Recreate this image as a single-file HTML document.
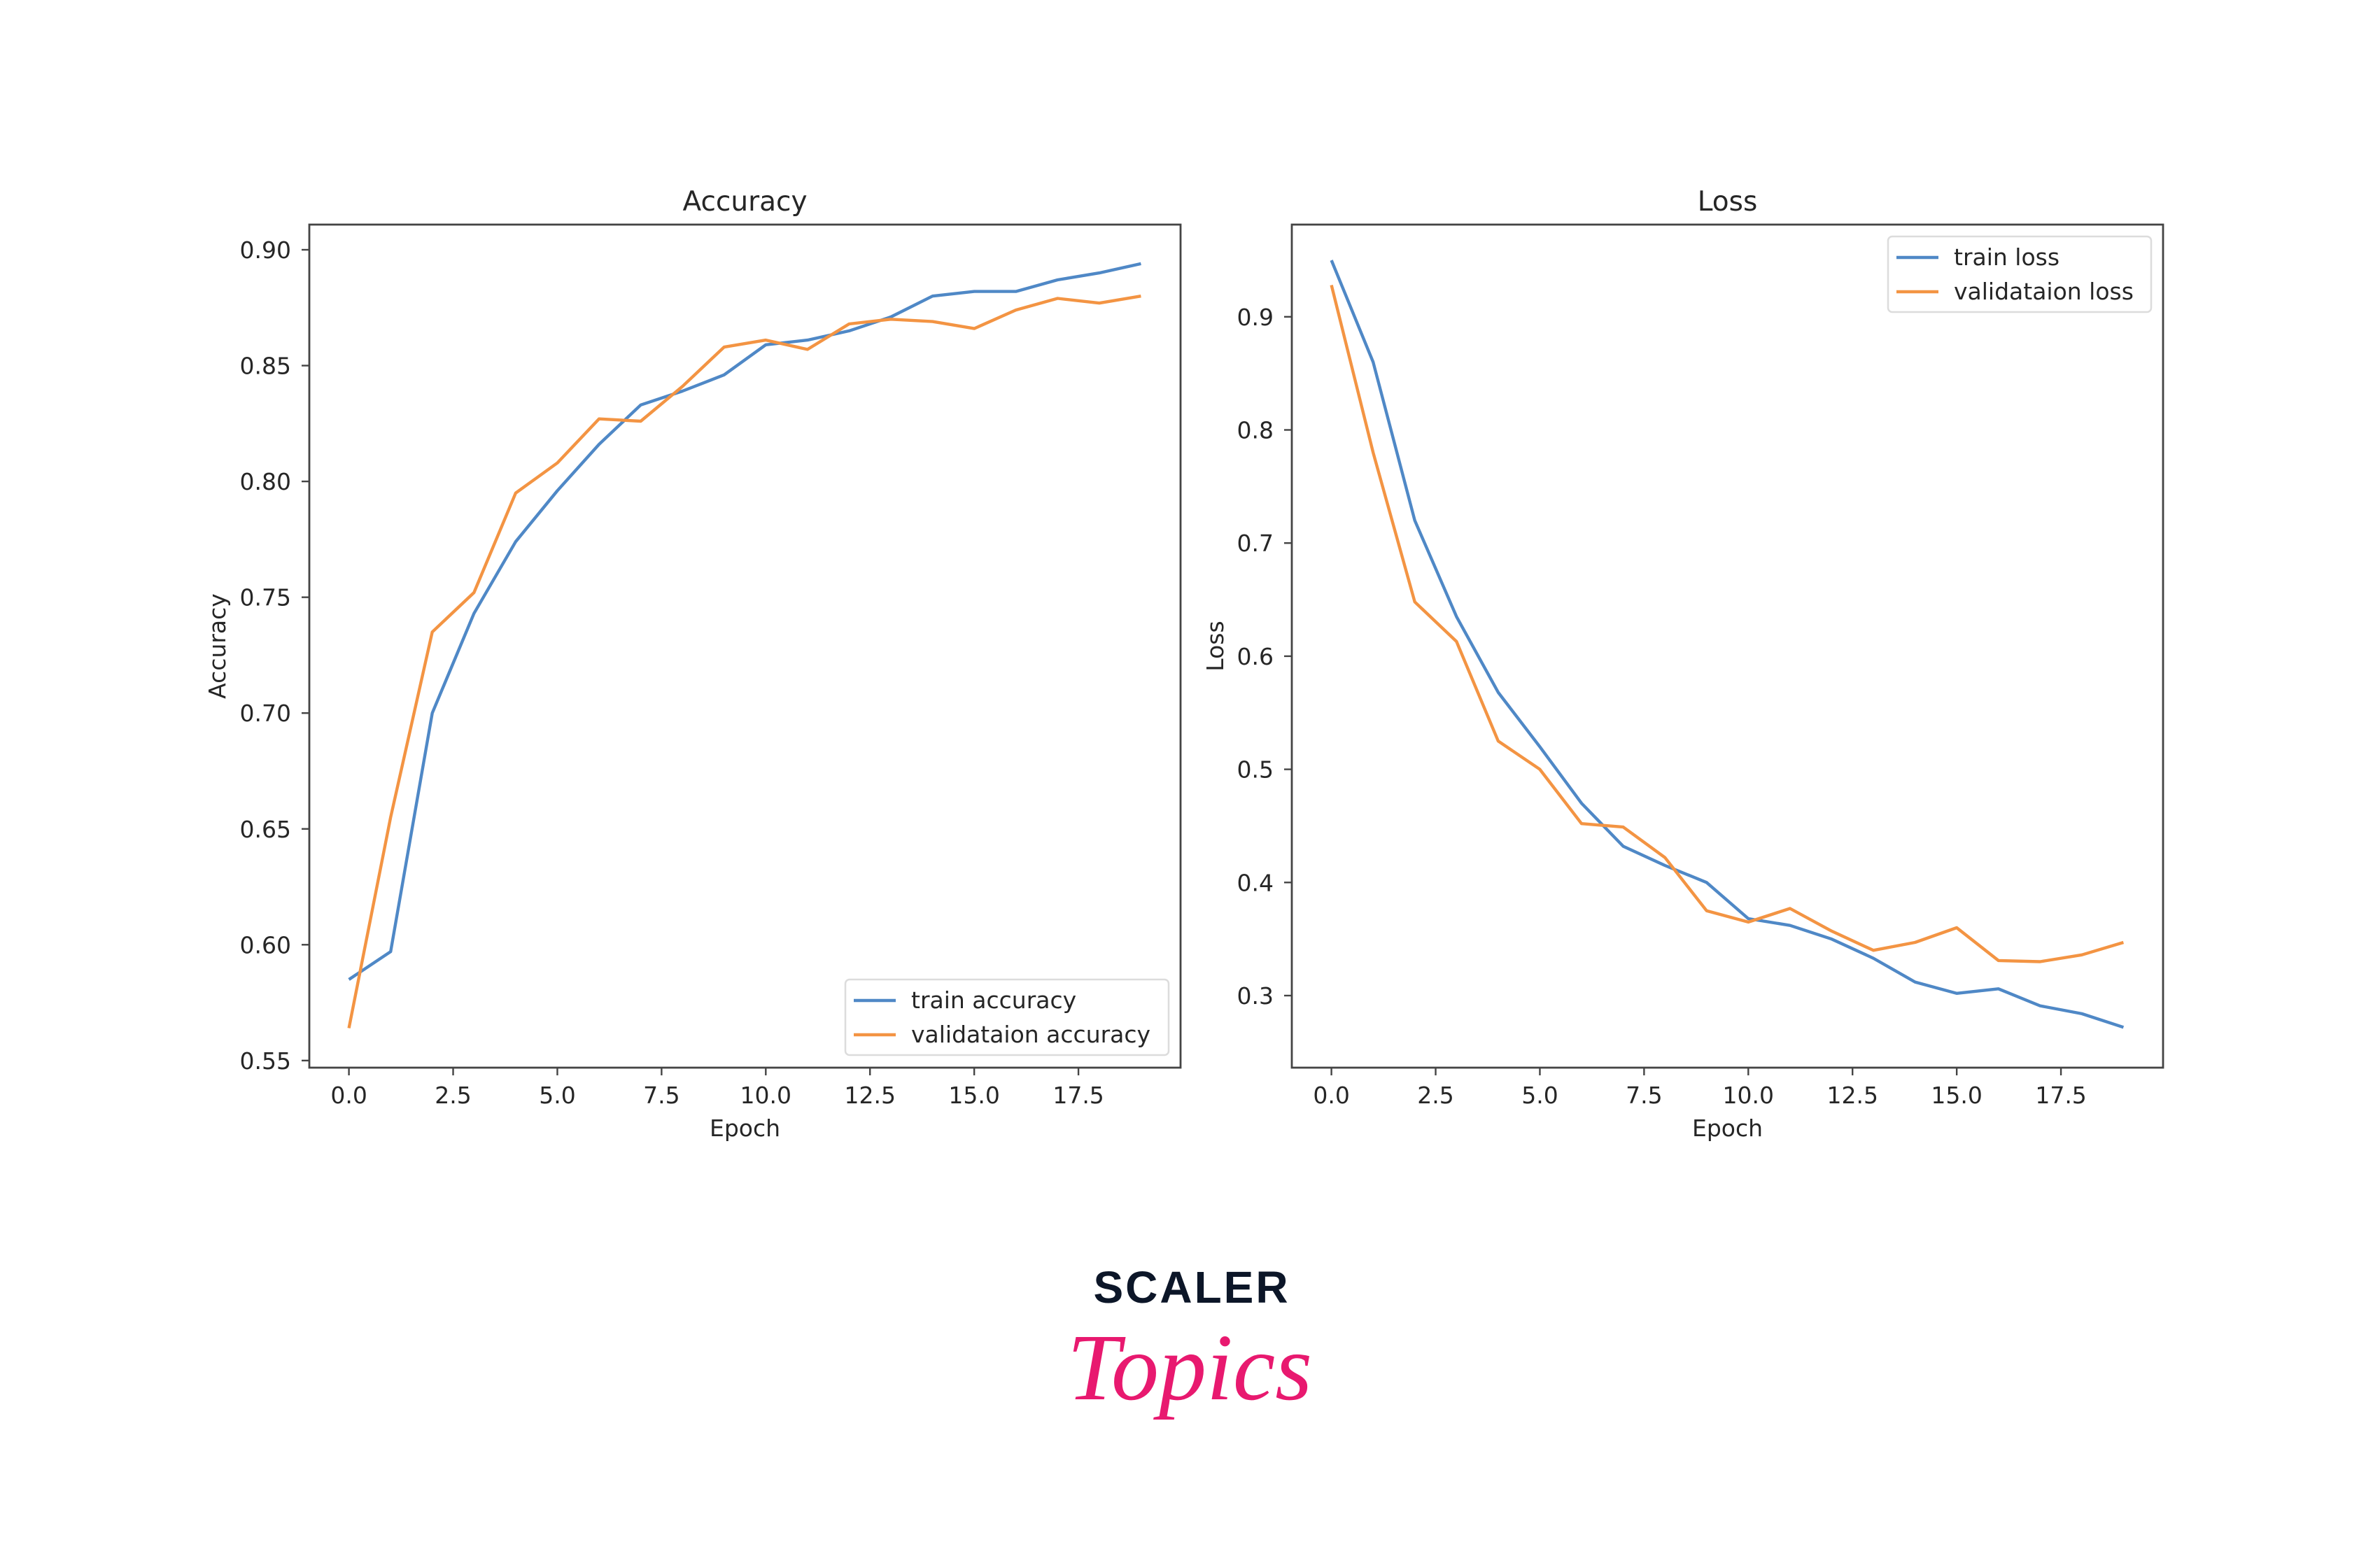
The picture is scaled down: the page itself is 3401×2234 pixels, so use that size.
<!DOCTYPE html>
<html><head><meta charset="utf-8"><style>
html,body{margin:0;padding:0;background:#fff;}
svg{display:block;}
text{font-family:"DejaVu Sans","Liberation Sans",sans-serif;fill:#262626;}
</style></head><body>
<svg id="s" width="3401" height="2234" xmlns="http://www.w3.org/2000/svg">
<rect width="3401" height="2234" fill="#fff"/>
<g id="g"></g>
<text x="1703" y="1862" text-anchor="middle" style="font-family:'Liberation Sans',sans-serif;font-weight:bold;font-size:64px;letter-spacing:3px;fill:#0c1628">SCALER</text>
<text x="1700" y="2000" text-anchor="middle" style="font-family:'Liberation Serif',serif;font-style:italic;font-size:136px;fill:#e8196f">Topics</text>
</svg>
<script>
var g=document.getElementById('g'),h='';
var BL='#4f88c6',OR='#f39443';
function ax(L,R,T,B,x0,ppu,yf,yt,ylab,title,tr,vl,leg){
  function pl(d,c){var p=d.map(function(v,i){return (x0+i*ppu).toFixed(1)+','+yf(v).toFixed(1)}).join(' ');
    h+='<polyline points="'+p+'" fill="none" stroke="'+c+'" stroke-width="4.4" stroke-linejoin="round"/>';}
  pl(tr,BL);pl(vl,OR);
  h+='<rect x="'+L+'" y="'+T+'" width="'+(R-L)+'" height="'+(B-T)+'" fill="none" stroke="#444" stroke-width="2.8"/>';
  for(var k=0;k<=7;k++){var x=x0+k*2.5*ppu;
    h+='<line x1="'+x+'" y1="'+B+'" x2="'+x+'" y2="'+(B+11)+'" stroke="#444" stroke-width="2.4"/>';
    h+='<text x="'+x+'" y="'+(B+51)+'" text-anchor="middle" font-size="33">'+(k*2.5).toFixed(1)+'</text>';}
  yt.forEach(function(t){var y=yf(t.v);
    h+='<line x1="'+(L-11)+'" y1="'+y+'" x2="'+L+'" y2="'+y+'" stroke="#444" stroke-width="2.4"/>';
    h+='<text x="'+(L-26)+'" y="'+(y+12)+'" text-anchor="end" font-size="33">'+t.s+'</text>';});
  h+='<text x="'+((L+R)/2)+'" y="'+(B+98)+'" text-anchor="middle" font-size="33">Epoch</text>';
  h+='<text x="'+((L+R)/2)+'" y="'+(T-20)+'" text-anchor="middle" font-size="39">'+title+'</text>';
  var yc=(T+B)/2;
  h+='<text transform="translate('+ylab.x+','+yc+') rotate(-90)" text-anchor="middle" font-size="33">'+ylab.s+'</text>';
  h+='<rect x="'+leg.x+'" y="'+leg.y+'" width="'+leg.w+'" height="108" rx="6" fill="#fff" fill-opacity="0.85" stroke="#dcdcdc" stroke-width="2.5"/>';
  [[BL,leg.a],[OR,leg.b]].forEach(function(e,i){var yy=leg.y+30+i*49;
    h+='<line x1="'+(leg.x+12)+'" y1="'+yy+'" x2="'+(leg.x+72)+'" y2="'+yy+'" stroke="'+e[0]+'" stroke-width="4.4"/>';
    h+='<text x="'+(leg.x+94)+'" y="'+(yy+11)+'" font-size="33">'+e[1]+'</text>';});
}
var accT=[0.585,0.597,0.70,0.743,0.774,0.796,0.816,0.833,0.839,0.846,0.859,0.861,0.865,0.871,0.880,0.882,0.882,0.887,0.890,0.894];
var accV=[0.564,0.655,0.735,0.752,0.795,0.808,0.827,0.826,0.841,0.858,0.861,0.857,0.868,0.870,0.869,0.866,0.874,0.879,0.877,0.880];
var lT=[0.95,0.86,0.72,0.635,0.568,0.52,0.47,0.432,0.415,0.40,0.368,0.362,0.35,0.333,0.312,0.302,0.306,0.291,0.284,0.272];
var lV=[0.928,0.78,0.648,0.613,0.525,0.50,0.452,0.449,0.422,0.375,0.365,0.377,0.357,0.34,0.347,0.36,0.331,0.330,0.336,0.347];
var ya=function(v){return 357+(0.90-v)*3311;};
var yl=function(v){return 1423-(v-0.3)*1617;};
var ta=[];for(var i=0;i<8;i++){var v=0.55+i*0.05;ta.push({v:v,s:v.toFixed(2)});}
var tl=[];for(var i=3;i<=9;i++){tl.push({v:i/10,s:(i/10).toFixed(1)});}
ax(442,1687,321,1526,498.6,59.57,ya,ta,{x:322,s:'Accuracy'},'Accuracy',accT,accV,{x:1208,y:1400,w:462,a:'train accuracy',b:'validataion accuracy'});
ax(1846,3091,321,1526,1902.6,59.57,yl,tl,{x:1748,s:'Loss'},'Loss',lT,lV,{x:2698,y:338,w:376,a:'train loss',b:'validataion loss'});
g.innerHTML=h;
</script>
</body></html>
